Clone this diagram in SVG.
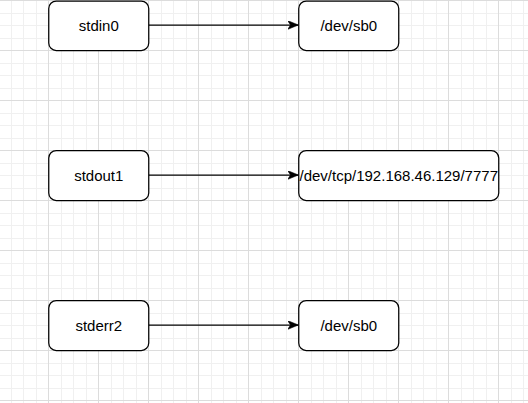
<svg xmlns="http://www.w3.org/2000/svg" width="528" height="403" viewBox="0 0 528 403">
  <style>
    .box { fill: #ffffff; stroke: #000000; stroke-width: 1.25; }
    .lbl { font-family: "Liberation Sans", Arial, sans-serif; font-size: 15px; fill: #000000; text-anchor: middle; }
    .edge { fill: none; stroke: #000000; stroke-width: 1.25; }
  </style>
  <defs>
    <pattern id="grid" patternUnits="userSpaceOnUse" x="-2" y="0" width="50" height="50">
      <g shape-rendering="crispEdges">
        <rect x="12.5" y="0" width="1" height="50" fill="#f0f0f0"/>
        <rect x="25" y="0" width="1" height="50" fill="#f0f0f0"/>
        <rect x="37.5" y="0" width="1" height="50" fill="#f0f0f0"/>
        <rect x="0" y="12.5" width="50" height="1" fill="#f0f0f0"/>
        <rect x="0" y="25" width="50" height="1" fill="#f0f0f0"/>
        <rect x="0" y="37.5" width="50" height="1" fill="#f0f0f0"/>
        <rect x="0" y="0" width="1" height="50" fill="#dcdcdc"/>
        <rect x="0" y="0" width="50" height="1" fill="#dcdcdc"/>
      </g>
    </pattern>
    <marker id="arrow" markerUnits="userSpaceOnUse" viewBox="0 0 11 9" refX="11" refY="4.5" markerWidth="11" markerHeight="9" orient="auto">
      <path d="M0,0 L11,4.5 L0,9 L3,4.5 Z" fill="#000000" stroke="#000000" stroke-width="0.5"/>
    </marker>
  </defs>
  <rect x="0" y="0" width="528" height="403" fill="#ffffff"/>
  <rect x="0" y="0" width="528" height="403" fill="url(#grid)"/>

  <g id="connectors">
    <path class="edge" d="M148.75,25 L298.5,25" marker-end="url(#arrow)"/>
    <path class="edge" d="M148.75,175 L298.5,175" marker-end="url(#arrow)"/>
    <path class="edge" d="M148.75,325 L298.5,325" marker-end="url(#arrow)"/>
  </g>

  <g id="stdin0">
    <rect class="box" x="48.75" y="1" width="100" height="49.5" rx="7.5" ry="7.5"/>
    <text class="lbl" x="98.75" y="31">stdin0</text>
  </g>
  <g id="sb0-top">
    <rect class="box" x="298.75" y="1" width="100" height="49.5" rx="7.5" ry="7.5"/>
    <text class="lbl" x="348.75" y="31">/dev/sb0</text>
  </g>
  <g id="stdout1">
    <rect class="box" x="48.75" y="150.5" width="100" height="50" rx="7.5" ry="7.5"/>
    <text class="lbl" x="98.75" y="181">stdout1</text>
  </g>
  <g id="tcp">
    <rect class="box" x="298.75" y="150.5" width="200" height="50" rx="7.5" ry="7.5"/>
    <text class="lbl" x="398.75" y="181">/dev/tcp/192.168.46.129/7777</text>
  </g>
  <g id="stderr2">
    <rect class="box" x="48.75" y="300.5" width="100" height="50" rx="7.5" ry="7.5"/>
    <text class="lbl" x="98.75" y="331">stderr2</text>
  </g>
  <g id="sb0-bottom">
    <rect class="box" x="298.75" y="300.5" width="100" height="50" rx="7.5" ry="7.5"/>
    <text class="lbl" x="348.75" y="331">/dev/sb0</text>
  </g>
</svg>
